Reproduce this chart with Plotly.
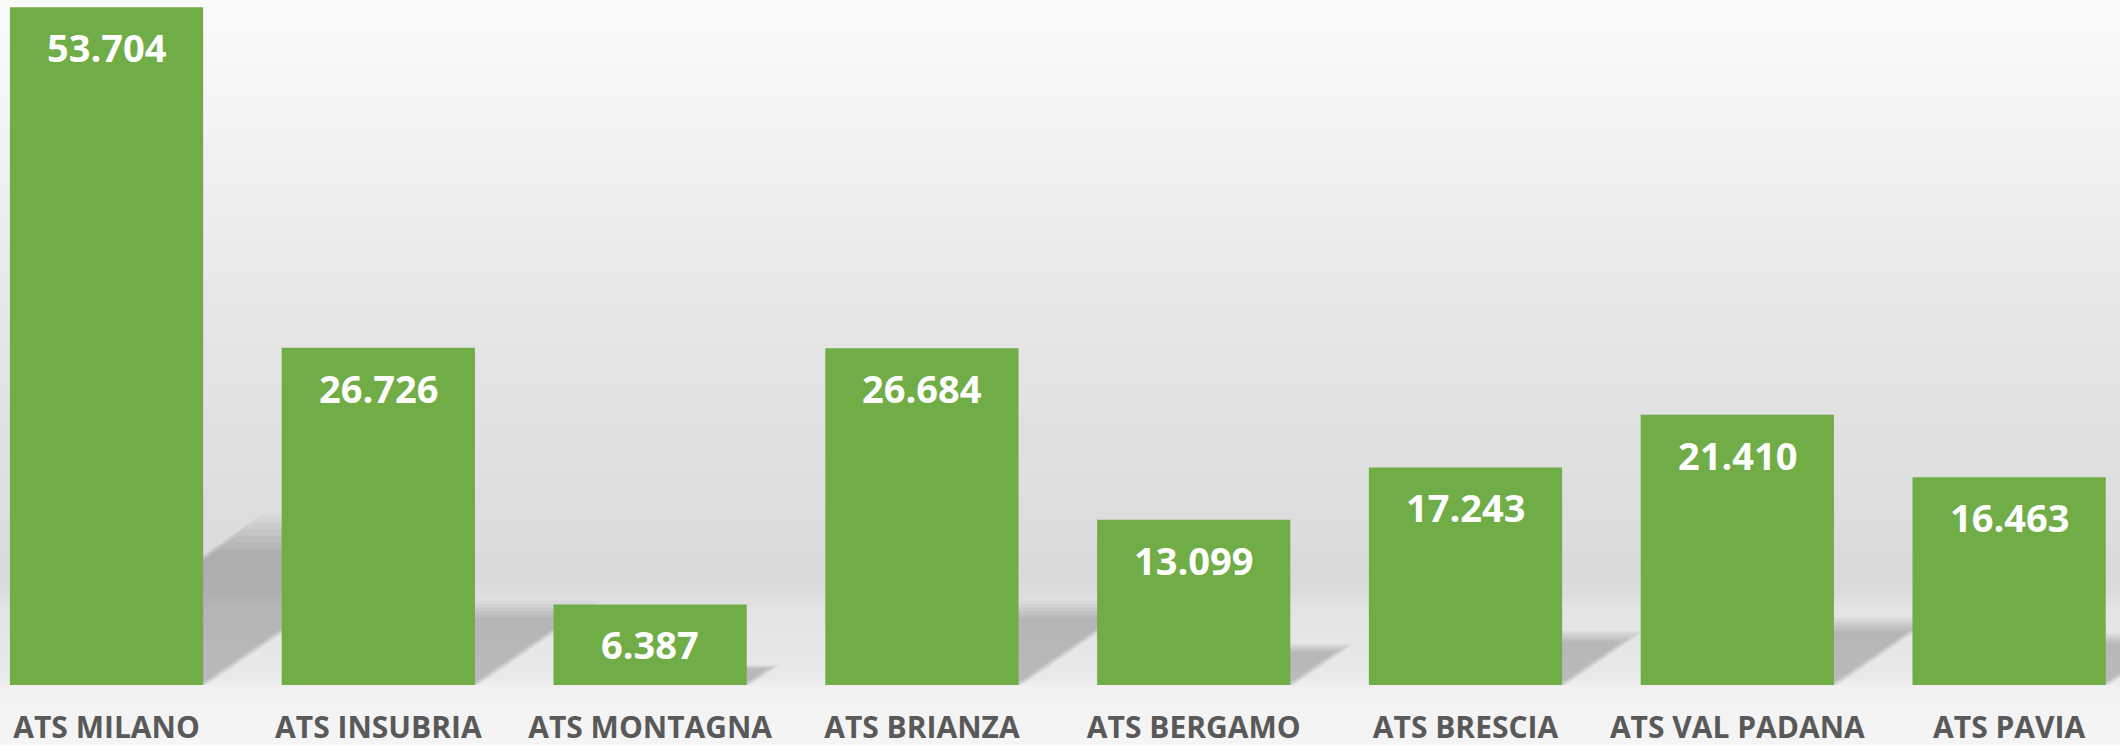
import base64
import numpy as np
import plotly.graph_objects as go

categories = ["ATS MILANO", "ATS INSUBRIA", "ATS MONTAGNA", "ATS BRIANZA",
              "ATS BERGAMO", "ATS BRESCIA", "ATS VAL PADANA", "ATS PAVIA"]
values = [53704, 26726, 6387, 26684, 13099, 17243, 21410, 16463]
value_labels = ["53.704", "26.726", "6.387", "26.684", "13.099", "17.243", "21.410", "16.463"]

W, H = 2120, 747
BOTTOM = 60
BAR_GREEN = "#70AD47"

xs = np.arange(len(categories))

# background gradient (full page)
stops = [(0, "#fbfbfb"), (100, "#f5f5f5"), (200, "#eeeeee"), (300, "#e7e7e7"),
         (400, "#e2e2e2"), (500, "#dedede"), (575, "#dadada"), (595, "#dcdcdc"),
         (610, "#e3e3e3"), (680, "#e9e9e9"), (690, "#f2f2f2"), (747, "#f5f5f5")]
stop_xml = "".join(f'<stop offset="{y / H:.4f}" stop-color="{c}"/>' for y, c in stops)
svg = (f'<svg xmlns="http://www.w3.org/2000/svg" width="{W}" height="{H}" '
       f'viewBox="0 0 {W} {H}" preserveAspectRatio="none">'
       f'<defs><linearGradient id="g" x1="0" y1="0" x2="0" y2="1">{stop_xml}</linearGradient></defs>'
       f'<rect width="{W}" height="{H}" fill="url(#g)"/></svg>')
svg_uri = "data:image/svg+xml;base64," + base64.b64encode(svg.encode()).decode()

fig = go.Figure()
fig.add_trace(go.Bar(
    x=xs, y=values, marker=dict(color=BAR_GREEN, line=dict(width=0)),
    hoverinfo="skip", showlegend=False,
))

# perspective shadows (derived from the bar values), layered to look soft
bargap = 0.289
half = (1 - bargap) / 2
ymax = 54281
plot_h = H - BOTTOM
px_per_unit_y = plot_h / ymax
px_per_cat = W / (7.408 + 0.392)
shapes = []
layers = np.linspace(0.20, 0.25, 6)
for i, v in zip(xs, values):
    for k, f in enumerate(layers):
        hgt = f * v
        shift = 1.45 * hgt * px_per_unit_y / px_per_cat
        widen = 0.015 * (k - 2.5) / 2.5
        xl, xr = i - half + 0.03 - widen, i + half + widen
        path = (f"M {xl},0 L {xr},0 L {xr + shift},{hgt} "
                f"L {xl + shift},{hgt} Z")
        shapes.append(dict(type="path", path=path, xref="x", yref="y",
                           fillcolor="rgba(0,0,0,0.036)", line=dict(width=0),
                           layer="below"))

annotations = []
for i, v, t in zip(xs, values, value_labels):
    annotations.append(dict(x=i, y=v, xref="x", yref="y", text=f"<b>{t}</b>",
                            showarrow=False, yanchor="top", yshift=-12,
                            font=dict(family="Open Sans", size=38, color="white")))

fig.update_layout(
    width=W, height=H,
    margin=dict(l=0, r=0, t=0, b=BOTTOM, pad=0),
    paper_bgcolor="rgba(0,0,0,0)", plot_bgcolor="rgba(0,0,0,0)",
    bargap=bargap,
    shapes=shapes,
    annotations=annotations,
    images=[dict(source=svg_uri, xref="paper", yref="paper", x=0, y=1,
                 sizex=1, sizey=H / plot_h, sizing="stretch",
                 xanchor="left", yanchor="top", layer="below")],
    xaxis=dict(range=[-0.392, 7.408], tickvals=xs, ticktext=[f"<b>{c}</b>" for c in categories],
               showgrid=False, zeroline=False, showline=False, ticks="",
               tickfont=dict(family="Open Sans", size=30, color="#595959"),
               ticklabelstandoff=22, fixedrange=True),
    yaxis=dict(range=[0, ymax], visible=False, showgrid=False, zeroline=False,
               fixedrange=True),
)

fig.write_html("out.html", config={"displayModeBar": False},
               post_script="document.body.style.margin='0';")
